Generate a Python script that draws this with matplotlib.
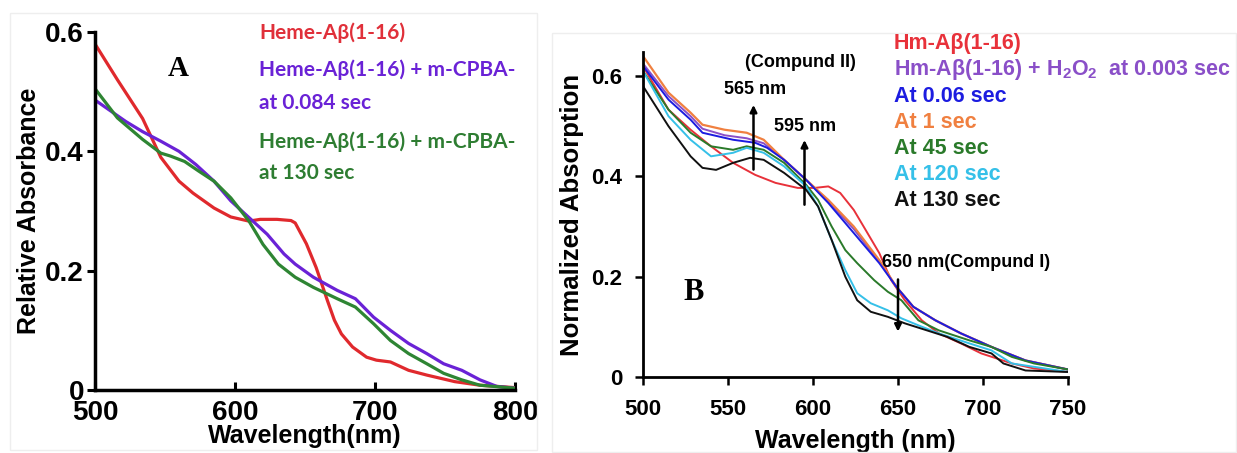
import numpy as np
import matplotlib
matplotlib.use("Agg")
import matplotlib.pyplot as plt
from matplotlib.patches import Rectangle

# ---------------- panel A data ----------------
wl_a_red = [500, 516, 534, 547, 560, 570, 585, 597, 610, 618, 630, 640, 643, 651, 658, 666,
            671, 676, 684, 694, 701, 711, 724, 737, 757, 775, 800]
abs_a_red = [0.58, 0.52, 0.455, 0.39, 0.35, 0.33, 0.305, 0.29, 0.283, 0.286, 0.286, 0.284, 0.28,
             0.245, 0.205, 0.15, 0.117, 0.094, 0.072, 0.055, 0.05, 0.047, 0.033, 0.025, 0.014,
             0.008, 0.004]

wl_a_purple = [500, 522, 534, 547, 560, 572, 585, 597, 610, 623, 635, 643, 656, 673, 686, 699,
               711, 724, 737, 749, 762, 775, 787, 800]
abs_a_purple = [0.486, 0.45, 0.433, 0.417, 0.4, 0.378, 0.35, 0.317, 0.289, 0.261, 0.228, 0.211,
                0.189, 0.167, 0.153, 0.122, 0.1, 0.078, 0.061, 0.044, 0.033, 0.017, 0.006, 0.003]

wl_a_green = [500, 516, 534, 547, 554, 564, 574, 585, 597, 610, 620, 631, 643, 656, 673, 686,
              699, 711, 724, 737, 749, 762, 775, 800]
abs_a_green = [0.505, 0.456, 0.42, 0.397, 0.392, 0.383, 0.367, 0.35, 0.322, 0.283, 0.244, 0.211,
               0.189, 0.172, 0.153, 0.139, 0.111, 0.083, 0.061, 0.044, 0.028, 0.017, 0.008, 0.003]

labels_a = ["Heme-A\u03b2(1-16)", "Heme-A\u03b2(1-16) + m-CPBA-", "at 0.084 sec",
            "Heme-A\u03b2(1-16) + m-CPBA-", "at 130 sec"]

# ---------------- panel B data ----------------
wl_b_red = [500, 515, 528, 540, 553, 566, 578, 591, 601, 609, 616, 624, 631, 639, 646, 654,
            664, 674, 687, 699, 717, 730, 750]
abs_b_red = [0.62, 0.533, 0.493, 0.46, 0.427, 0.403, 0.387, 0.377, 0.377, 0.38, 0.367, 0.333,
             0.293, 0.247, 0.193, 0.153, 0.113, 0.087, 0.067, 0.047, 0.027, 0.017, 0.01]

wl_b_orange = [500, 515, 528, 535, 548, 561, 571, 583, 596, 609, 624, 639, 649, 659, 672, 687,
               705, 725, 750]
abs_b_orange = [0.64, 0.567, 0.527, 0.503, 0.493, 0.487, 0.473, 0.433, 0.393, 0.353, 0.3, 0.233,
                0.18, 0.14, 0.113, 0.087, 0.06, 0.033, 0.015]

wl_b_purple = [500, 515, 528, 535, 548, 561, 571, 583, 596, 609, 624, 639, 649, 659, 672, 687,
               705, 725, 750]
abs_b_purple = [0.625, 0.56, 0.52, 0.495, 0.482, 0.476, 0.466, 0.433, 0.393, 0.35, 0.295, 0.23,
                0.18, 0.14, 0.113, 0.087, 0.06, 0.033, 0.015]

wl_b_blue = [500, 515, 528, 535, 553, 566, 573, 583, 596, 609, 624, 639, 649, 659, 672, 687,
             705, 725, 750]
abs_b_blue = [0.62, 0.553, 0.513, 0.487, 0.473, 0.467, 0.457, 0.433, 0.393, 0.347, 0.287, 0.227,
              0.18, 0.14, 0.113, 0.087, 0.06, 0.033, 0.015]

wl_b_green = [500, 515, 528, 540, 553, 561, 571, 583, 596, 603, 611, 619, 626, 636, 644, 652,
              662, 674, 692, 705, 717, 730, 750]
abs_b_green = [0.61, 0.533, 0.487, 0.46, 0.453, 0.46, 0.453, 0.427, 0.383, 0.353, 0.3, 0.253,
               0.227, 0.193, 0.17, 0.153, 0.113, 0.093, 0.073, 0.06, 0.04, 0.027, 0.015]

wl_b_cyan = [500, 515, 528, 540, 553, 561, 571, 583, 596, 603, 611, 619, 626, 634, 644, 652,
             662, 674, 692, 705, 717, 750]
abs_b_cyan = [0.61, 0.52, 0.473, 0.44, 0.447, 0.457, 0.447, 0.42, 0.38, 0.34, 0.273, 0.213,
              0.167, 0.147, 0.133, 0.117, 0.103, 0.087, 0.067, 0.053, 0.027, 0.01]

wl_b_black = [500, 515, 528, 535, 543, 553, 563, 571, 583, 596, 603, 611, 619, 626, 634, 644,
              654, 667, 679, 692, 705, 712, 725, 750]
abs_b_black = [0.58, 0.5, 0.44, 0.417, 0.413, 0.427, 0.437, 0.433, 0.407, 0.373, 0.34, 0.273,
               0.2, 0.153, 0.13, 0.12, 0.107, 0.093, 0.08, 0.06, 0.047, 0.027, 0.013, 0.01]

labels_b = ["Hm-A\u03b2(1-16)", "Hm-A\u03b2(1-16) + H$_2$O$_2$  at 0.003 sec", "At 0.06 sec",
            "At 1 sec", "At 45 sec", "At 120 sec", "At 130 sec"]

W, H = 1237, 453
plt.rcParams["font.family"] = ["Liberation Sans", "DejaVu Sans"]
plt.rcParams["font.weight"] = "bold"
plt.rcParams["mathtext.default"] = "regular"

fig = plt.figure(figsize=(W / 100, H / 100), dpi=100)


def px_box(l, t, r, b):
    return [l / W, 1 - b / H, (r - l) / W, (b - t) / H]


def fx(x):
    return x / W


def fy(y):
    return 1 - y / H


# faint frames around the two panels
fig.patches.append(Rectangle((fx(10), fy(450)), (537 - 10) / W, (450 - 13) / H,
                             transform=fig.transFigure, fill=False, ec="#eeeeee", lw=1))
fig.patches.append(Rectangle((fx(552), fy(452)), (1236 - 552) / W, (452 - 33) / H,
                             transform=fig.transFigure, fill=False, ec="#eeeeee", lw=1))

# ---------------- panel A ----------------
axa = fig.add_axes(px_box(95, 32, 515, 390))
axa.plot(wl_a_red, abs_a_red, color="#e0292d", lw=2.3)
axa.plot(wl_a_purple, abs_a_purple, color="#6a22d6", lw=2.3)
axa.plot(wl_a_green, abs_a_green, color="#2e8533", lw=2.3)
axa.set_xlim(500, 800)
axa.set_ylim(0, 0.6)
axa.set_xticks([500, 600, 700, 800])
axa.set_yticks([0, 0.2, 0.4, 0.6])
axa.set_yticklabels(["0", "0.2", "0.4", "0.6"])
axa.spines["top"].set_visible(False)
axa.spines["right"].set_visible(False)
for s in ["left", "bottom"]:
    axa.spines[s].set_linewidth(2.5)
axa.tick_params(axis="both", width=2.2, length=6, labelsize=20, pad=1)
axa.tick_params(axis="x", direction="in", pad=7)
axa.tick_params(axis="y", pad=2)
axa.set_xlabel("Wavelength(nm)", fontsize=18, fontweight="bold", labelpad=-1)
axa.set_ylabel("Relative Absorbance", fontsize=18, fontweight="bold", labelpad=3)
fig.text(fx(178), fy(68), "A", family="Liberation Serif", fontsize=21, fontweight="bold",
         ha="center", va="center")

colors_a = ["#e0303a", "#6a22d6", "#6a22d6", "#2e7d32", "#2e7d32"]
ys_a = [33, 70, 103, 142, 173]
for lab, c, y in zip(labels_a, colors_a, ys_a):
    fig.text(fx(259), fy(y), lab, color=c, family=["Lato", "DejaVu Sans"], fontsize=15,
             fontweight="bold", ha="left", va="center")

# ---------------- panel B ----------------
axb = fig.add_axes(px_box(643, 52, 1068, 377))
axb.plot(wl_b_red, abs_b_red, color="#e8313a", lw=1.4)
axb.plot(wl_b_purple, abs_b_purple, color="#8a4fc8", lw=1.4)
axb.plot(wl_b_orange, abs_b_orange, color="#f08040", lw=1.6)
axb.plot(wl_b_blue, abs_b_blue, color="#1c1ce0", lw=1.4)
axb.plot(wl_b_green, abs_b_green, color="#2a7a2a", lw=1.4)
axb.plot(wl_b_cyan, abs_b_cyan, color="#35c0e8", lw=1.4)
axb.plot(wl_b_black, abs_b_black, color="#111111", lw=1.4)
axb.set_xlim(500, 750)
axb.set_ylim(0, 0.648)
axb.set_xticks([500, 550, 600, 650, 700, 750])
axb.set_yticks([0, 0.2, 0.4, 0.6])
axb.set_yticklabels(["0", "0.2", "0.4", "0.6"])
axb.spines["top"].set_visible(False)
axb.spines["right"].set_visible(False)
for s in ["left", "bottom"]:
    axb.spines[s].set_linewidth(2.0)
axb.tick_params(axis="both", width=1.8, length=6, labelsize=16, direction="out")
axb.tick_params(axis="x", pad=10)
axb.tick_params(axis="y", pad=9)
axb.set_xlabel("Wavelength (nm)", fontsize=18, fontweight="bold", labelpad=6)
axb.set_ylabel("Normalized Absorption", fontsize=18.5, fontweight="bold", labelpad=5)
fig.text(fx(694), fy(293), "B", family="Liberation Serif", fontsize=22, fontweight="bold",
         ha="center", va="center")

arrow_kw = dict(arrowstyle="-|>", color="black", lw=1.8, mutation_scale=10)
axb.annotate("", xy=(565, 0.548), xytext=(565, 0.408), arrowprops=arrow_kw)
axb.annotate("", xy=(595, 0.478), xytext=(595, 0.338), arrowprops=arrow_kw)
axb.annotate("", xy=(650, 0.085), xytext=(650, 0.2), arrowprops=arrow_kw)
axb.text(592.4, 0.628, "(Compund II)", fontsize=13, fontweight="bold", ha="center", va="center")
axb.text(565.9, 0.574, "565 nm", fontsize=13, fontweight="bold", ha="center", va="center")
axb.text(595.3, 0.5, "595 nm", fontsize=13, fontweight="bold", ha="center", va="center")
axb.text(640.6, 0.228, "650 nm(Compund I)", fontsize=13, fontweight="bold", ha="left",
         va="center")

colors_b = ["#e8313a", "#8a4fc8", "#1c1ce0", "#f08040", "#2a7a2a", "#35c0e8", "#111111"]
ys_b = [43, 69, 96, 122, 148, 174, 200]
for lab, c, y in zip(labels_b, colors_b, ys_b):
    fig.text(fx(894), fy(y), lab, color=c, fontsize=15.5, fontweight="bold", ha="left",
             va="center")

fig.savefig("out.png", dpi=100)
